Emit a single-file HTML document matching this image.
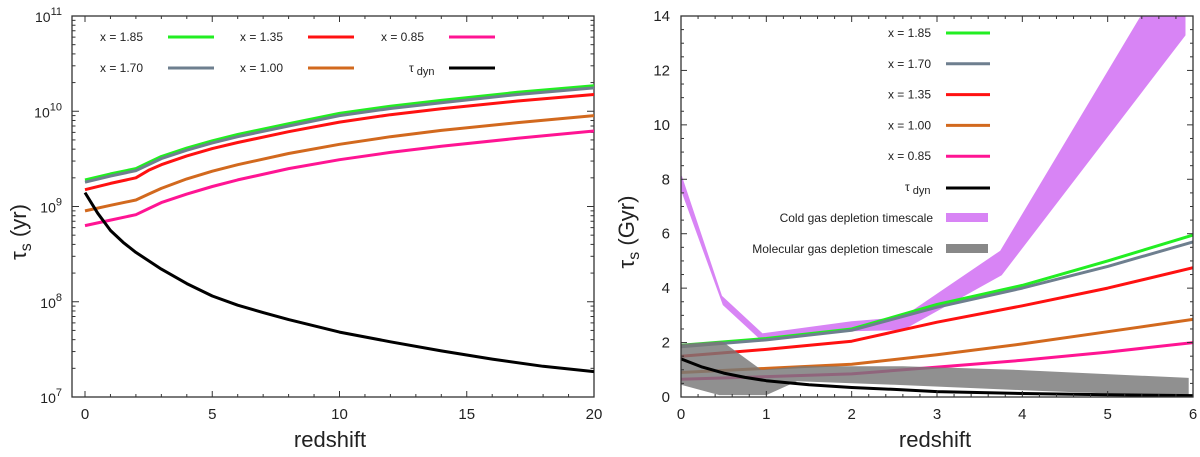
<!DOCTYPE html>
<html><head><meta charset="utf-8"><style>
html,body{margin:0;padding:0;background:#fff;}
svg{display:block;font-family:"Liberation Sans","DejaVu Sans",sans-serif;}
</style></head><body>
<svg id="c" width="1200" height="457" viewBox="0 0 1200 457"></svg>
<script>
// ---------- data: left panel (log scale) ----------
const zL = [0, 1, 2, 2.5, 3, 4, 5, 6, 8, 10, 12, 14, 17, 20];
const L185 = [1.9e9, 2.2e9, 2.5e9, 2.9e9, 3.35e9, 4.1e9, 4.9e9, 5.7e9, 7.4e9, 9.5e9, 1.13e10, 1.3e10, 1.58e10, 1.85e10];
const L170 = [1.8e9, 2.09e9, 2.38e9, 2.75e9, 3.18e9, 3.9e9, 4.65e9, 5.4e9, 7.0e9, 9.0e9, 1.07e10, 1.23e10, 1.5e10, 1.76e10];
const L135 = [1.5e9, 1.75e9, 2.0e9, 2.4e9, 2.75e9, 3.4e9, 4.05e9, 4.7e9, 6.1e9, 7.7e9, 9.2e9, 1.06e10, 1.28e10, 1.5e10];
const L100 = [9e8, 1.03e9, 1.17e9, 1.35e9, 1.55e9, 1.95e9, 2.35e9, 2.75e9, 3.6e9, 4.5e9, 5.4e9, 6.3e9, 7.6e9, 9.0e9];
const L085 = [6.3e8, 7.2e8, 8.2e8, 9.5e8, 1.1e9, 1.35e9, 1.62e9, 1.9e9, 2.5e9, 3.1e9, 3.7e9, 4.3e9, 5.2e9, 6.2e9];
const zDynL = [0, 0.5, 1, 1.5, 2, 2.5, 3, 4, 5, 6, 7, 8, 10, 12, 14, 16, 18, 20];
const LDyn = [1.4e9, 8.5e8, 5.6e8, 4.2e8, 3.3e8, 2.7e8, 2.2e8, 1.55e8, 1.15e8, 9.2e7, 7.7e7, 6.5e7, 4.8e7, 3.8e7, 3.05e7, 2.5e7, 2.1e7, 1.85e7];
const xTicksL = [0, 5, 10, 15, 20];
const yExpL = [7, 8, 9, 10, 11];
// ---------- data: right panel (linear) ----------
const zR = [0, 1, 2, 3, 4, 5, 6];
const R185 = [1.9, 2.15, 2.5, 3.4, 4.1, 5.0, 5.95];
const R170 = [1.85, 2.1, 2.45, 3.3, 4.0, 4.8, 5.7];
const R135 = [1.5, 1.75, 2.05, 2.75, 3.35, 4.0, 4.75];
const R100 = [0.9, 1.05, 1.2, 1.55, 1.95, 2.4, 2.85];
const R085 = [0.65, 0.75, 0.85, 1.1, 1.35, 1.65, 2.0];
const zDynR = [0, 0.25, 0.5, 0.75, 1, 1.5, 2, 2.5, 3, 4, 5, 6];
const RDyn = [1.4, 1.1, 0.88, 0.72, 0.6, 0.45, 0.35, 0.28, 0.2, 0.13, 0.08, 0.05];
const zCold = [0, 0.47, 0.95, 2, 2.6, 3.75, 5.4, 5.9];
const coldHi = [8.1, 3.7, 2.3, 2.75, 2.9, 5.35, 14, 14];
const zColdLo = [0, 0.5, 0.95, 2, 2.6, 3.75, 5.9];
const coldLo = [7.7, 3.4, 2.1, 2.45, 2.5, 4.5, 13.3];
const zMolHi = [0, 0.48, 0.94, 1.4, 2.6, 3.9, 5.95];
const molHi = [1.95, 2.05, 1.0, 1.13, 1.13, 1.0, 0.7];
const zMolLo = [0, 0.45, 1.0, 1.36, 2.5, 4.0, 5.95];
const molLo = [0.45, 0.07, 0.07, 0.58, 0.45, 0.25, 0.02];
const xTicksR = [0, 1, 2, 3, 4, 5, 6];
const yTicksR = [0, 2, 4, 6, 8, 10, 12, 14];

const NS = "http://www.w3.org/2000/svg";
const svg = document.getElementById('c');
function mk(tag, attrs, parent) {
  const e = document.createElementNS(NS, tag);
  for (const k in attrs) e.setAttribute(k, attrs[k]);
  (parent || svg).appendChild(e);
  return e;
}
const COL = {g:'#22ee22', gr:'#6e7f8f', r:'#ff1111', o:'#d2691e', p:'#ff1493', k:'#000'};

const LX0 = 72, LX1 = 594, LY0 = 16, LY1 = 397;
const lx = z => 85 + (z - 0) / 20 * (LX1 - 85);
const ly = v => LY1 - (Math.log10(v) - 7) / 4 * (LY1 - LY0);
const RX0 = 681, RX1 = 1193;
const rx = z => RX0 + z / 6 * (RX1 - RX0);
const ry = v => LY1 - v / 14 * (LY1 - LY0);

function pathD(xs, ys, fx, fy) {
  return xs.map((x, i) => (i ? 'L' : 'M') + fx(x).toFixed(1) + ',' + fy(ys[i]).toFixed(1)).join(' ');
}
function line(xs, ys, fx, fy, col, name, clip) {
  const p = mk('path', {d: pathD(xs, ys, fx, fy), fill: 'none', stroke: col, 'stroke-width': 3, 'stroke-linejoin': 'round'});
  if (clip) p.setAttribute('clip-path', clip);
  
  
  return p;
}
function txt(x, y, s, attrs, name) {
  const t = mk('text', Object.assign({x: x, y: y, fill: '#222'}, attrs || {}));
  t.textContent = s;
  
  
  return t;
}
const defs = mk('defs', {});
const cp1 = mk('clipPath', {id: 'cl'}, defs); mk('rect', {x: LX0, y: LY0, width: LX1 - LX0, height: LY1 - LY0}, cp1);
const cp2 = mk('clipPath', {id: 'cr'}, defs); mk('rect', {x: RX0, y: LY0, width: RX1 - RX0, height: LY1 - LY0}, cp2);

// ----- LEFT PANEL -----
const fr1 = mk('rect', {x: LX0, y: LY0, width: LX1 - LX0, height: LY1 - LY0, fill: 'none', stroke: '#333', 'stroke-width': 1.3});


for (let z = 0; z <= 20; z++) {
  const len = z % 5 === 0 ? 6 : 3;
  mk('line', {x1: lx(z), x2: lx(z), y1: LY1, y2: LY1 - len, stroke: '#333'});
  mk('line', {x1: lx(z), x2: lx(z), y1: LY0, y2: LY0 + len, stroke: '#333'});
}
xTicksL.forEach(z => txt(lx(z), 419, String(z), {'text-anchor': 'middle', 'font-size': 15}, 'left-x-tick-label'));
yExpL.forEach(e => {
  const y = ly(Math.pow(10, e));
  mk('line', {x1: LX0, x2: LX0 + 7, y1: y, y2: y, stroke: '#333'});
  mk('line', {x1: LX1, x2: LX1 - 7, y1: y, y2: y, stroke: '#333'});
  if (e < 11) for (let m = 2; m < 10; m++) {
    const yy = ly(m * Math.pow(10, e));
    mk('line', {x1: LX0, x2: LX0 + 3.5, y1: yy, y2: yy, stroke: '#333'});
    mk('line', {x1: LX1, x2: LX1 - 3.5, y1: yy, y2: yy, stroke: '#333'});
  }
  const t = txt(62, y + 6, '10', {'text-anchor': 'end', 'font-size': 14}, 'left-y-tick-label');
  const s = mk('tspan', {dy: -7, 'font-size': 11}, t); s.textContent = String(e);
});
line(zL, L085, lx, ly, COL.p, 'left-series-x085', 'url(#cl)');
line(zL, L100, lx, ly, COL.o, 'left-series-x100', 'url(#cl)');
line(zL, L135, lx, ly, COL.r, 'left-series-x135', 'url(#cl)');
line(zL, L185, lx, ly, COL.g, 'left-series-x185', 'url(#cl)');
line(zL, L170, lx, ly, COL.gr, 'left-series-x170', 'url(#cl)');
line(zDynL, LDyn, lx, ly, COL.k, 'left-series-tau-dyn', 'url(#cl)');
const legL = [
  ['x = 1.85', COL.g, 100, 37], ['x = 1.35', COL.r, 240, 37], ['x = 0.85', COL.p, 381, 37],
  ['x = 1.70', COL.gr, 100, 68], ['x = 1.00', COL.o, 240, 68]];
legL.forEach(l => {
  txt(l[2], l[3] + 4, l[0], {'font-size': 12}, 'legend-label');
  const ln = mk('line', {x1: l[2] + 68, x2: l[2] + 114, y1: l[3], y2: l[3], stroke: l[1], 'stroke-width': 3});
  
  
});
{
  const t = txt(409, 72, 'τ', {'font-size': 12}, 'legend-label-tau-dyn');
  const s = mk('tspan', {dy: 3, 'font-size': 11}, t); s.textContent = ' dyn';
  mk('line', {x1: 449, x2: 495, y1: 68, y2: 68, stroke: '#000', 'stroke-width': 3});
}
{
  const t = txt(0, 0, 'τ', {'font-size': 22, transform: 'translate(26,232) rotate(-90)', 'text-anchor': 'middle'}, 'left-y-axis-title');
  const s = mk('tspan', {dy: 5, 'font-size': 16}, t); s.textContent = 's';
  const s2 = mk('tspan', {dy: -5, 'font-size': 22}, t); s2.textContent = '  (yr)';
}
txt(330, 447, 'redshift', {'text-anchor': 'middle', 'font-size': 22}, 'left-x-axis-title');

// ----- RIGHT PANEL -----
const poly = (xs1, y1, xs2, y2) => {
  let pts = xs1.map((x, i) => rx(x).toFixed(1) + ',' + ry(y1[i]).toFixed(1));
  for (let i = xs2.length - 1; i >= 0; i--) pts.push(rx(xs2[i]).toFixed(1) + ',' + ry(y2[i]).toFixed(1));
  return pts.join(' ');
};
const cold = mk('polygon', {points: poly(zCold, coldHi, zColdLo, coldLo), fill: '#d884f5', stroke: '#d884f5', 'stroke-width': 2, 'stroke-linejoin': 'round', 'clip-path': 'url(#cr)'});


line(zR, R085, rx, ry, COL.p, 'right-series-x085', 'url(#cr)');
line(zR, R100, rx, ry, COL.o, 'right-series-x100', 'url(#cr)');
line(zR, R135, rx, ry, COL.r, 'right-series-x135', 'url(#cr)');
line(zR, R185, rx, ry, COL.g, 'right-series-x185', 'url(#cr)');
line(zR, R170, rx, ry, COL.gr, 'right-series-x170', 'url(#cr)');
const mol = mk('polygon', {points: poly(zMolHi, molHi, zMolLo, molLo), fill: '#777', opacity: 0.82, 'clip-path': 'url(#cr)'});


line(zDynR, RDyn, rx, ry, COL.k, 'right-series-tau-dyn', 'url(#cr)');
const fr2 = mk('rect', {x: RX0, y: LY0, width: RX1 - RX0, height: LY1 - LY0, fill: 'none', stroke: '#333', 'stroke-width': 1.3});


for (let i = 0; i <= 30; i++) {
  const z = i * 0.2, len = i % 5 === 0 ? 6 : 3;
  mk('line', {x1: rx(z), x2: rx(z), y1: LY1, y2: LY1 - len, stroke: '#333'});
  mk('line', {x1: rx(z), x2: rx(z), y1: LY0, y2: LY0 + len, stroke: '#333'});
}
for (let i = 0; i <= 28; i++) {
  const v = i * 0.5, len = i % 4 === 0 ? 6 : 3;
  mk('line', {x1: RX0, x2: RX0 + len, y1: ry(v), y2: ry(v), stroke: '#333'});
  mk('line', {x1: RX1, x2: RX1 - len, y1: ry(v), y2: ry(v), stroke: '#333'});
}
xTicksR.forEach(z => txt(rx(z), 419, String(z), {'text-anchor': 'middle', 'font-size': 15}, 'right-x-tick-label'));
yTicksR.forEach(v => txt(670, ry(v) + 5, String(v), {'text-anchor': 'end', 'font-size': 15}, 'right-y-tick-label'));
const legR = [['x = 1.85', COL.g], ['x = 1.70', COL.gr], ['x = 1.35', COL.r], ['x = 1.00', COL.o], ['x = 0.85', COL.p]];
legR.forEach((l, i) => {
  const y = 33 + i * 30.8;
  txt(931, y + 4, l[0], {'text-anchor': 'end', 'font-size': 12}, 'legend-label');
  const ln = mk('line', {x1: 946, x2: 990, y1: y, y2: y, stroke: l[1], 'stroke-width': 3});
  
  
});
{
  const t = txt(905, 191, 'τ', {'font-size': 12}, 'legend-label-tau-dyn');
  const s = mk('tspan', {dy: 3, 'font-size': 11}, t); s.textContent = ' dyn';
  mk('line', {x1: 946, x2: 990, y1: 188, y2: 188, stroke: '#000', 'stroke-width': 3});
  txt(933, 222, 'Cold gas depletion timescale', {'text-anchor': 'end', 'font-size': 12}, 'legend-label-cold-gas');
  mk('rect', {x: 946, y: 213, width: 42, height: 9, fill: '#d884f5'});
  txt(933, 253, 'Molecular gas depletion timescale', {'text-anchor': 'end', 'font-size': 12}, 'legend-label-molecular-gas');
  mk('rect', {x: 946, y: 244, width: 42, height: 9, fill: '#888'});
}
{
  const t = txt(0, 0, 'τ', {'font-size': 22, transform: 'translate(634,232) rotate(-90)', 'text-anchor': 'middle'}, 'right-y-axis-title');
  const s = mk('tspan', {dy: 5, 'font-size': 16}, t); s.textContent = 's';
  const s2 = mk('tspan', {dy: -5, 'font-size': 22}, t); s2.textContent = '  (Gyr)';
}
txt(935, 447, 'redshift', {'text-anchor': 'middle', 'font-size': 22}, 'right-x-axis-title');
</script>
</body></html>
